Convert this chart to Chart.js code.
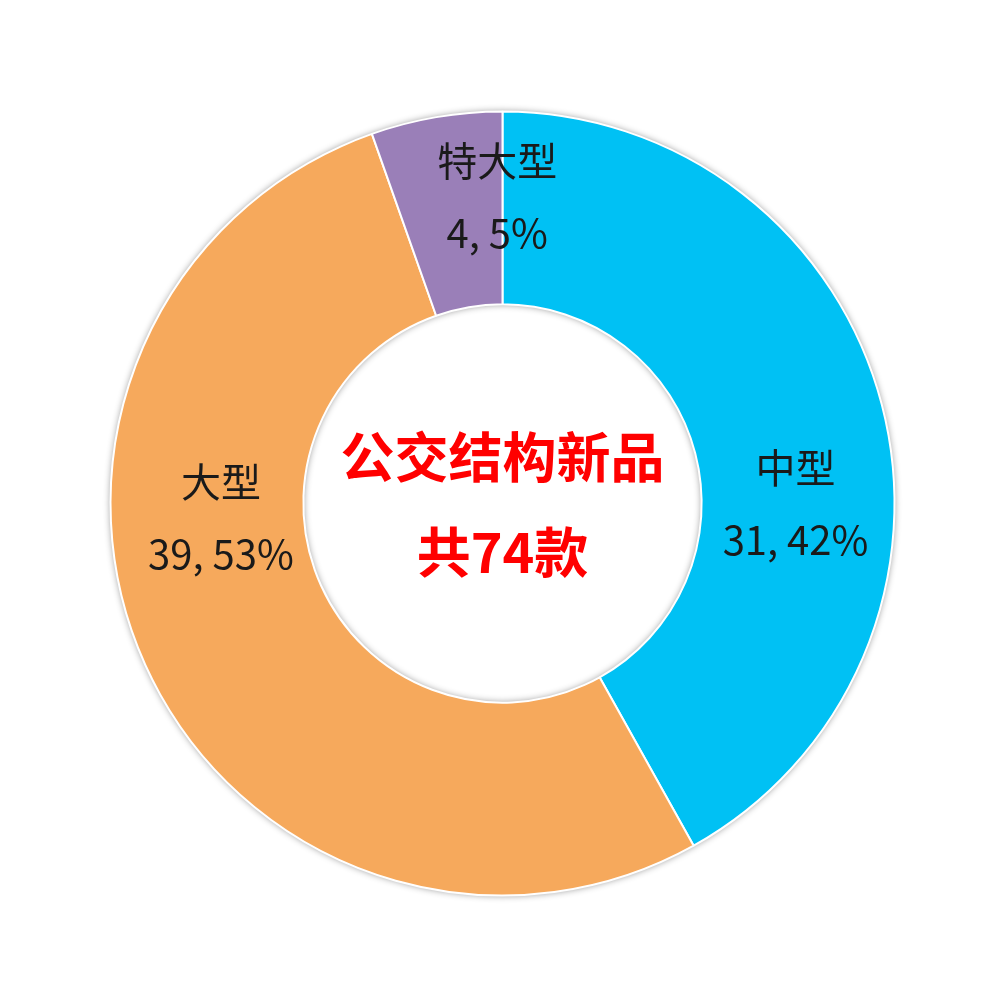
<!DOCTYPE html>
<html>
<head>
<meta charset="utf-8">
<script src="https://cdn.jsdelivr.net/npm/chart.js@4"></script>
<style>
  html, body { margin: 0; padding: 0; background: #fff; }
  #wrap { width: 1000px; height: 1003px; }
</style>
</head>
<body>
<div id="wrap"><canvas id="bus-chart"></canvas></div>
<script>
const labels = ['中型', '大型', '特大型']
const counts = [31, 39, 4]
const percents = ['42%', '53%', '5%']
const colors = ['#00C1F4', '#F6A95C', '#9A7FB8']
const centerLines = ['公交结构新品', '共74款']

const ctx = document.getElementById('bus-chart')

// soft grey shadow round the ring, drawn before the slices
const ringShadow = {
  id: 'ringShadow',
  beforeDatasetsDraw(chart) {
    const arc = chart.getDatasetMeta(0).data[0]
    if (!arc) return
    const { x, y, outerRadius, innerRadius } = arc.getProps(['x', 'y', 'outerRadius', 'innerRadius'], true)
    const c = chart.ctx
    c.save()
    c.beginPath()
    c.arc(x, y, outerRadius, 0, Math.PI * 2)
    c.arc(x, y, innerRadius, 0, Math.PI * 2, true)
    c.shadowColor = 'rgba(0,0,0,0.45)'
    c.shadowBlur = 7
    c.fillStyle = '#fff'
    c.fill('evenodd')
    c.restore()
  }
}

// label offsets (angle in degrees from 12 o'clock, distance from centre)
const labelSpots = [[90, 293], [267, 282], [359, 307]]

const sliceLabels = {
  id: 'sliceLabels',
  afterDatasetsDraw(chart) {
    const arc = chart.getDatasetMeta(0).data[0]
    if (!arc) return
    const { x, y } = arc.getProps(['x', 'y'], true)
    const c = chart.ctx
    c.save()
    c.textAlign = 'center'
    c.textBaseline = 'middle'
    c.fillStyle = '#1a1a1a'
    c.font = '40px "Noto Sans CJK SC", "Noto Sans", sans-serif'
    labels.forEach((name, i) => {
      const [deg, r] = labelSpots[i]
      const a = deg * Math.PI / 180
      const lx = x + r * Math.sin(a)
      const ly = y - r * Math.cos(a)
      c.fillText(name, lx, ly - 36)
      c.fillText(`${counts[i]}, ${percents[i]}`, lx, ly + 36)
    })

    c.fillStyle = '#FF0000'
    c.font = 'bold 54px "Noto Sans CJK SC", sans-serif'
    c.fillText(centerLines[0], x, y - 46)
    c.fillText(centerLines[1], x, y + 49)
    c.restore()
  }
}

const busChart = new Chart(ctx, {
  type: 'doughnut',
  data: {
    labels,
    datasets: [{
      data: counts,
      backgroundColor: colors,
      borderColor: '#ffffff',
      borderWidth: 2
    }]
  },
  options: {
    responsive: true,
    maintainAspectRatio: false,
    animation: false,
    radius: 392,
    cutout: '50.8%',
    layout: { padding: { left: 5, top: 4 } },
    plugins: {
      legend: { display: false },
      tooltip: { enabled: false }
    }
  },
  plugins: [ringShadow, sliceLabels]
})
</script>
</body>
</html>
